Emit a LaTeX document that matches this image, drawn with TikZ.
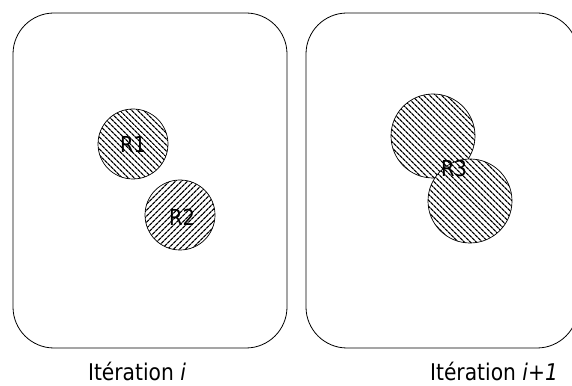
\documentclass[tikz,border=0pt]{standalone}
\usepackage{fontspec}
\setmainfont{DejaVu Sans}[FakeStretch=0.88]
\usetikzlibrary{patterns.meta}
\tikzset{
         frame/.style={draw=black,line width=.8pt,rounded corners=41pt},
         region/.style={shape=circle,draw=black,line width=.7pt,inner sep=0pt,
                        preaction={fill=white}},
         hatchleft/.style={pattern={Lines[angle=-45,distance=4pt,line width=1.3pt]}},
         hatchright/.style={pattern={Lines[angle=45,distance=4pt,line width=1.3pt]}},
         tag/.style={font=\fontsize{22}{24}\selectfont},
         caption/.style={font=\fontsize{23}{26}\selectfont,anchor=base}
        }
\begin{document}
\begin{tikzpicture}[x=1pt,y=1pt]
\useasboundingbox (0,0) rectangle (572,385);
\clip (0,0) rectangle (572,385);
\draw[frame](13,37) rectangle (287,372); % iteration i
\draw[frame](306,37) rectangle (578,372); % iteration i+1
\node[region,hatchleft,minimum size=70pt] (rOne) at (133,241) {}; % region 1
\node[region,hatchright,minimum size=70pt] (rTwo) at (180,170) {}; % region 2
\node[region,hatchleft,minimum size=84pt] (rThreeA) at (433,249) {}; % merged, upper
\node[region,hatchleft,minimum size=84pt] (rThreeB) at (470,184) {}; % merged, lower

%labels
\node[tag] (nOne) at (rOne) {R1};
\node[tag] (nTwo) at (182,168) {R2};
\node[tag] (nThree) at (454,217) {R3};
\node[caption] (capI) at (137,5) {Itération \textit{i}};
\node[caption] (capII) at (494,5) {Itération \textit{i+1}};
\end{tikzpicture}
\end{document}
